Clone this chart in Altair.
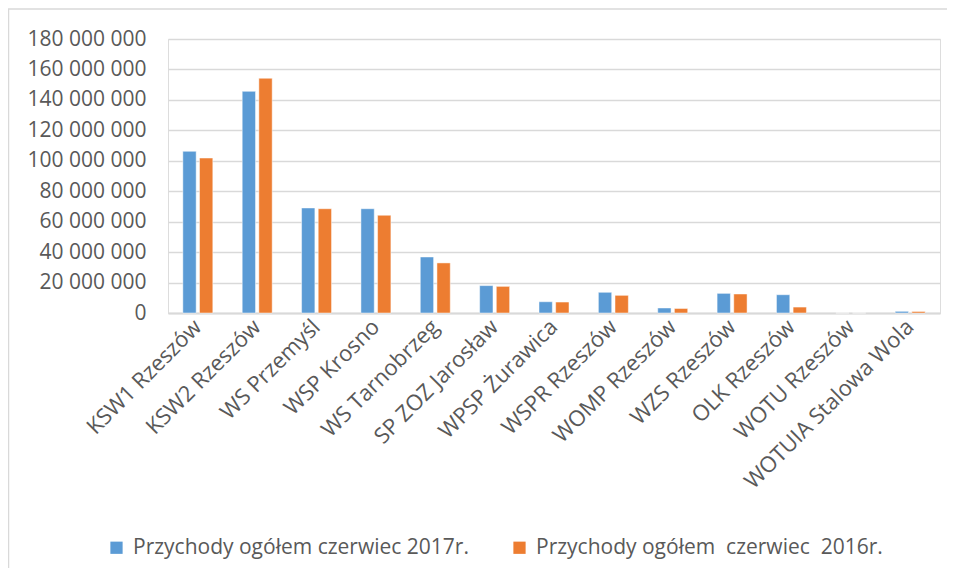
import altair as alt
import pandas as pd

categories = ["KSW1 Rzeszów", "KSW2 Rzeszów", "WS Przemyśl", "WSP Krosno", "WS Tarnobrzeg",
              "SP ZOZ Jarosław", "WPSP Żurawica", "WSPR Rzeszów", "WOMP Rzeszów", "WZS Rzeszów",
              "OLK Rzeszów", "WOTU Rzeszów", "WOTUIA Stalowa Wola"]
series_names = ["Przychody ogółem czerwiec 2017r.", "Przychody ogółem  czerwiec  2016r."]
values_2017 = [106200000, 145600000, 69000000, 68500000, 36800000, 18000000, 7400000,
               13600000, 3300000, 12900000, 12000000, 0, 1100000]
values_2016 = [101800000, 154200000, 68500000, 64200000, 32900000, 17500000, 7200000,
               11600000, 3000000, 12500000, 3900000, 0, 1000000]
y_ticks = [0, 20000000, 40000000, 60000000, 80000000, 100000000, 120000000,
           140000000, 160000000, 180000000]
colors = ["#5B9BD5", "#ED7D31"]

rows = []
for c, a, b in zip(categories, values_2017, values_2016):
    rows.append({"cat": c, "series": series_names[0], "value": a})
    rows.append({"cat": c, "series": series_names[1], "value": b})
df = pd.DataFrame(rows)

FONT = "Open Sans"
TXT = "#595959"
GRID = "#d9d9d9"

bars = alt.Chart(df).mark_bar(stroke="white", strokeOpacity=0.6, strokeWidth=0.8).encode(
    x=alt.X("cat:N", sort=categories,
            scale=alt.Scale(paddingInner=0.495, paddingOuter=0.25),
            axis=alt.Axis(title=None, labelAngle=-45, labelAlign="right", labelBaseline="middle",
                          labelFontSize=22, labelFont=FONT, labelColor=TXT, ticks=False,
                          labelPadding=10, domainColor=GRID, domainWidth=2, labelLimit=400)),
    xOffset=alt.XOffset("series:N", sort=series_names,
                        scale=alt.Scale(paddingInner=0.2, paddingOuter=0)),
    y=alt.Y("value:Q", scale=alt.Scale(domain=[0, 180000000], nice=False),
            axis=alt.Axis(title=None, values=y_ticks, domain=False, ticks=False,
                          labelFontSize=21, labelFont=FONT, labelColor=TXT, labelPadding=22,
                          gridColor=GRID, gridWidth=1.5,
                          labelExpr="replace(format(datum.value, ','), regexp(',', 'g'), ' ')")),
    color=alt.Color("series:N", sort=series_names,
                    scale=alt.Scale(domain=series_names, range=colors),
                    legend=alt.Legend(title=None, orient="none", direction="horizontal",
                                      legendX=-62, legendY=498, symbolType="square",
                                      symbolSize=150, symbolStrokeWidth=0,
                                      labelFontSize=21, labelFont=FONT, labelColor=TXT,
                                      columnPadding=40, labelOffset=6, labelLimit=500,
                                      labelExpr="replace(datum.label, regexp('  ', 'g'), '\u00a0 ')")),
)

frame = alt.Chart(pd.DataFrame({"a": [0]})).mark_rect(
    fill=None, stroke=GRID, strokeWidth=1.5
).encode(
    x=alt.value(-159.5), x2=alt.value(1400), y=alt.value(-30), y2=alt.value(900)
)

chart = alt.layer(frame, bars).properties(
    width=772, height=274,
    autosize=alt.AutoSizeParams(type="none"),
    padding={"left": 160, "top": 31, "right": 7, "bottom": 255},
).configure_view(stroke=None).configure(background="white")

chart.save("out.html", embed_options={"renderer": "svg", "actions": False})
